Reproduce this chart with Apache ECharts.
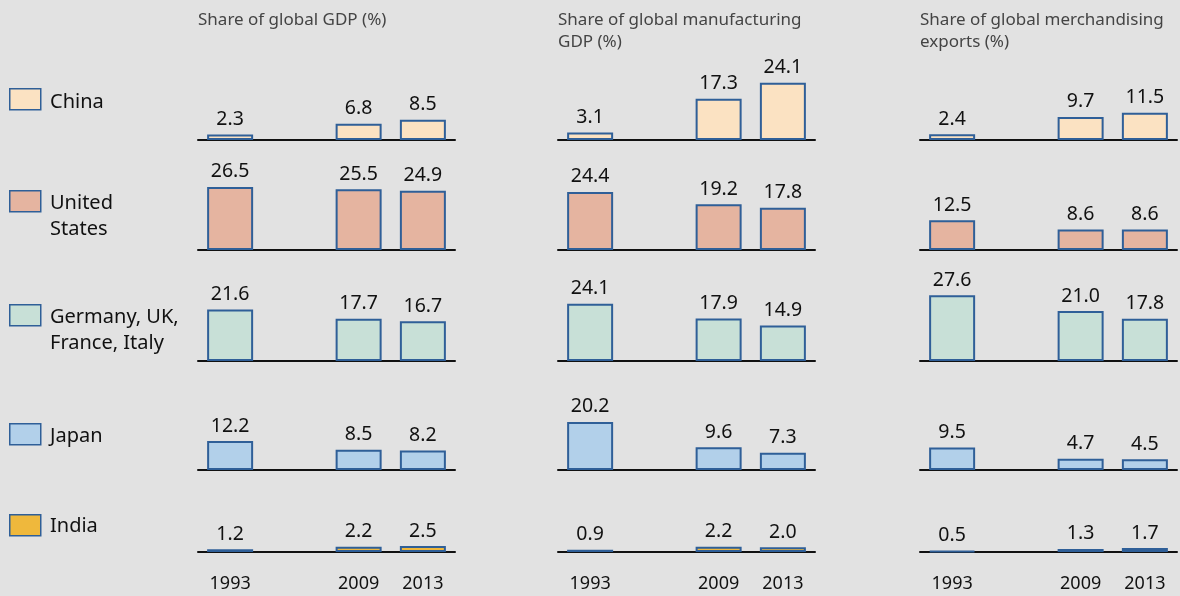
<!DOCTYPE html>
<html>
<head>
<meta charset="utf-8">
<script src="https://cdn.jsdelivr.net/npm/echarts@6/dist/echarts.min.js"></script>
<style>
  html, body { margin: 0; padding: 0; background: #e2e2e2; }
  #chart { width: 1180px; height: 596px; }
</style>
</head>
<body>
<div id="chart"></div>
<script>
// years, with an empty slot between 1993 and 2009
const years = ['1993', '', '2009', '2013'];

const regions = ['China', 'United\nStates', 'Germany, UK,\nFrance, Italy', 'Japan', 'India'];
const panelTitles = [
  'Share of global GDP (%)',
  'Share of global manufacturing\nGDP (%)',
  'Share of global merchandising\nexports (%)'
];

// values per region: [1993, 2009, 2013]
const gdpShare = [
  [2.3, 6.8, 8.5],
  [26.5, 25.5, 24.9],
  [21.6, 17.7, 16.7],
  [12.2, 8.5, 8.2],
  [1.2, 2.2, 2.5]
];
const manufacturingShare = [
  [3.1, 17.3, 24.1],
  [24.4, 19.2, 17.8],
  [24.1, 17.9, 14.9],
  [20.2, 9.6, 7.3],
  [0.9, 2.2, 2.0]
];
const exportsShare = [
  [2.4, 9.7, 11.5],
  [12.5, 8.6, 8.6],
  [27.6, 21.0, 17.8],
  [9.5, 4.7, 4.5],
  [0.5, 1.3, 1.7]
];

const panels = [gdpShare, manufacturingShare, exportsShare];
const fills = ['#fbe2c2', '#e5b4a0', '#c8e0d7', '#b2d0ea', '#efb83c'];
const border = '#2f5f98';
const font = 'Noto Sans';

// layout
const colLeft = [198, 558, 920];
const colWidth = 257;
const baselines = [140, 250, 361, 470, 552];
const yMax = 30;
const plotH = 71.4;   // ~2.38 px per percentage point

const grids = [], xAxes = [], yAxes = [], series = [];
panels.forEach((panel, c) => {
  panel.forEach((vals, r) => {
    const idx = grids.length;
    grids.push({ left: colLeft[c], width: colWidth, top: baselines[r] - plotH, height: plotH });
    xAxes.push({
      type: 'category', gridIndex: idx, data: years,
      axisLine: { lineStyle: { color: '#111', width: 2 } },
      axisTick: { show: false },
      axisLabel: {
        show: r === panel.length - 1, interval: 0, margin: 23,
        color: '#111', fontSize: 18, fontFamily: font
      }
    });
    yAxes.push({
      type: 'value', gridIndex: idx, min: 0, max: yMax, show: false,
      splitLine: { show: false }
    });
    series.push({
      type: 'bar', xAxisIndex: idx, yAxisIndex: idx,
      barWidth: 46, z: 1,
      data: [vals[0], '-', vals[1], vals[2]],
      itemStyle: { color: fills[r], borderColor: border, borderWidth: 2 },
      label: {
        show: true, position: 'top', distance: 5,
        color: '#111', fontSize: 19.5, fontFamily: font,
        formatter: p => p.value.toFixed(1)
      }
    });
  });
});

// row labels on the left
const boxY = [99, 201, 315, 434, 525];
const textY = [102, 203, 317, 436, 526];
const graphics = [];
regions.forEach((name, r) => {
  graphics.push({
    type: 'rect', left: 9, top: boxY[r] - 11,
    shape: { width: 31, height: 21 },
    style: { fill: fills[r], stroke: border, lineWidth: 1.5 }
  });
  graphics.push({
    type: 'text', left: 50, top: textY[r] - 13,
    style: { text: name, fill: '#111', font: '20px "' + font + '"', lineHeight: 26 }
  });
});

const titles = panelTitles.map((t, c) => ({
  text: t, left: colLeft[c], top: 9, padding: 0,
  textStyle: { color: '#444', fontSize: 17, fontWeight: 'normal', fontFamily: font, lineHeight: 22 }
}));

const chart = echarts.init(document.getElementById('chart'));
chart.setOption({
  backgroundColor: '#e2e2e2',
  animation: false,
  title: titles,
  grid: grids,
  xAxis: xAxes,
  yAxis: yAxes,
  series: series,
  graphic: graphics
});
</script>
</body>
</html>
